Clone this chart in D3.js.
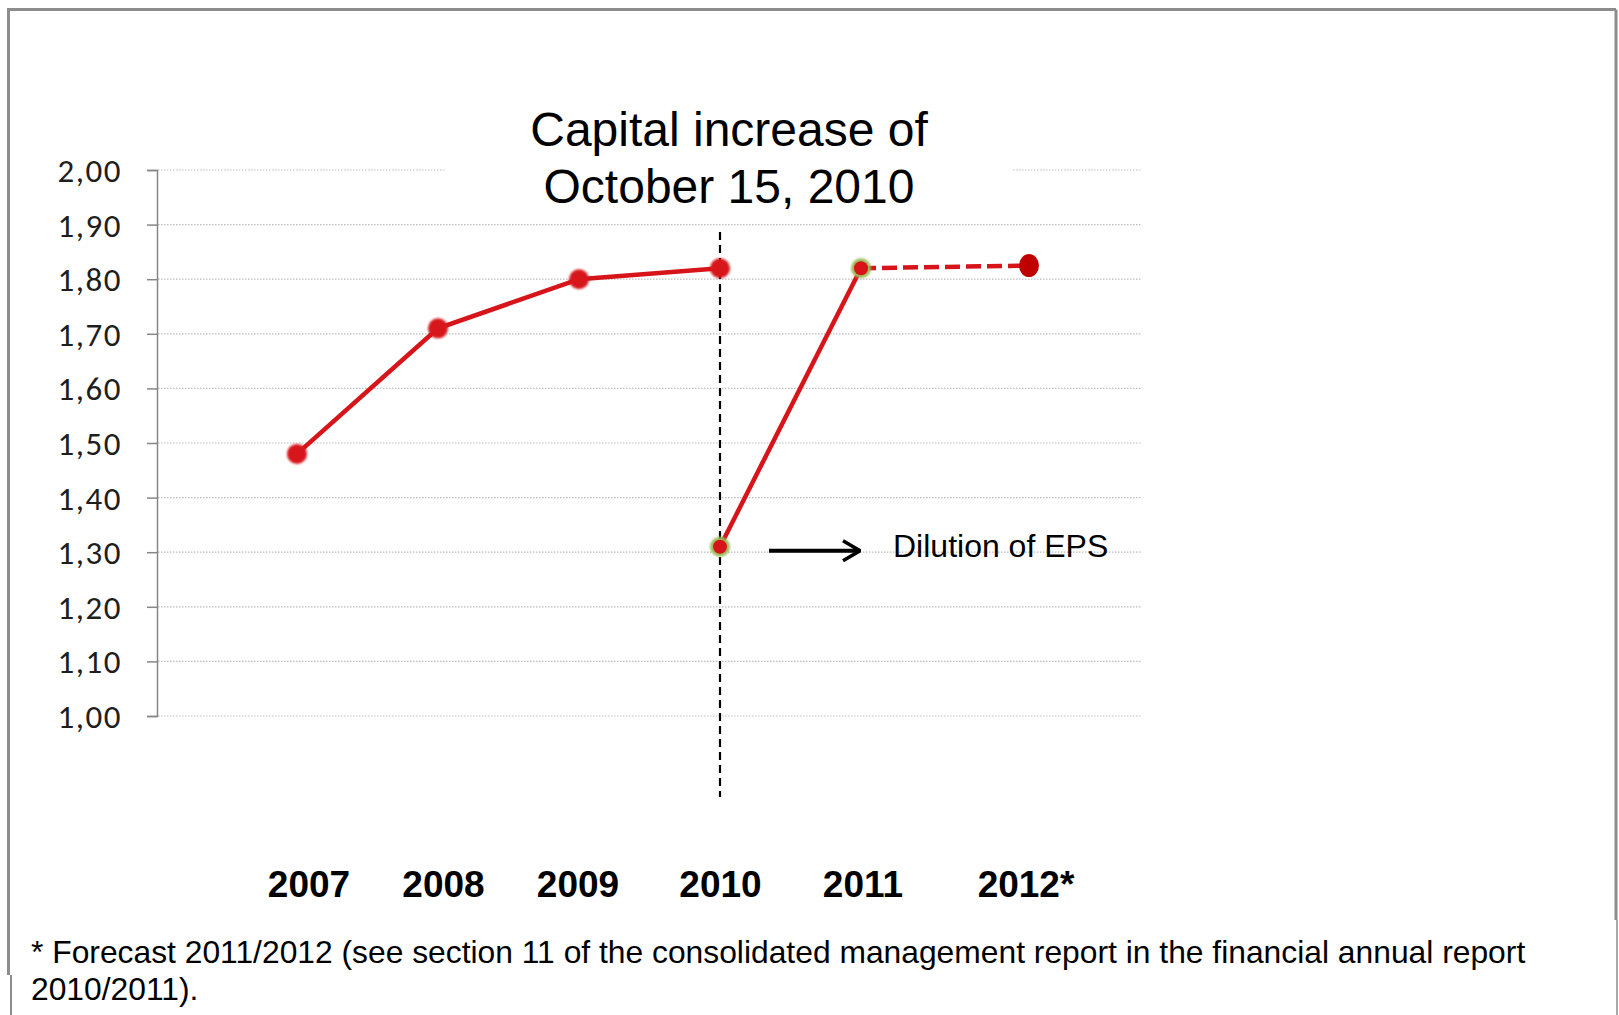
<!DOCTYPE html>
<html>
<head>
<meta charset="utf-8">
<script src="https://cdn.jsdelivr.net/npm/d3@7"></script>
<style>
  body { margin: 0; background: #fff; }
  svg { display: block; }
</style>
</head>
<body>
<svg id="chart" width="1619" height="1015"></svg>
<script>
// EPS before the capital increase (2007 - 2010)
const beforeYears = [2007, 2008, 2009, 2010];
const beforeEps = [1.48, 1.71, 1.80, 1.82];
// EPS after dilution (2010 restated, 2011)
const afterYears = [2010, 2011];
const afterEps = [1.31, 1.82];
// forecast 2011 -> 2012
const forecastYears = [2011, 2012];
const forecastEps = [1.82, 1.825];

const years = [2007, 2008, 2009, 2010, 2011, 2012];
const yearLabels = ["2007", "2008", "2009", "2010", "2011", "2012*"];
const yTicks = [1.0, 1.1, 1.2, 1.3, 1.4, 1.5, 1.6, 1.7, 1.8, 1.9, 2.0];

const titleLines = ["Capital increase of", "October 15, 2010"];
const noteText = "Dilution of EPS";
const footLines = [
  "* Forecast 2011/2012 (see section 11 of the consolidated management report in the financial annual report",
  "2010/2011)."
];

const svg = d3.select("#chart");
const red = "#d7141a";

// scales (2012 sits a little further out in the original)
const x = d3.scaleLinear().domain([2007, 2011, 2012]).range([297, 861, 1029]);
const xLab = d3.scaleLinear().domain([2007, 2009, 2011, 2012]).range([309, 578, 863, 1026]);
const y = d3.scaleLinear().domain([1, 2]).range([716, 170]);

const defs = svg.append("defs");
defs.append("filter").attr("id", "soft")
  .attr("x", "-50%").attr("y", "-50%").attr("width", "200%").attr("height", "200%")
  .append("feGaussianBlur").attr("stdDeviation", 1.1);
defs.append("marker").attr("id", "head")
  .attr("viewBox", "0 0 20 24").attr("refX", 19).attr("refY", 12)
  .attr("markerWidth", 20).attr("markerHeight", 24).attr("markerUnits", "userSpaceOnUse")
  .attr("orient", "auto")
  .append("path").attr("d", "M2,2 L19,12 L2,22")
  .attr("fill", "none").attr("stroke", "#000").attr("stroke-width", 3.5);

// frame
const frame = svg.append("g").attr("stroke", "#8c8c8c").attr("fill", "none");
frame.append("path").attr("d", "M8.5,975 V9.5 H1616").attr("stroke-width", 3);
frame.append("path").attr("d", "M1616,9.5 V920").attr("stroke-width", 3);
frame.append("path").attr("d", "M1617,920 V1015").attr("stroke-width", 1.5);
frame.append("path").attr("d", "M11,975 V1015").attr("stroke-width", 2);

// gridlines
svg.append("g").selectAll("line")
  .data(yTicks)
  .join("line")
  .attr("x1", 158).attr("x2", 1142)
  .attr("y1", d => y(d)).attr("y2", d => y(d))
  .attr("stroke", "#bdbdbd").attr("stroke-width", 1.2)
  .attr("stroke-dasharray", "1.5,1.5");

// y axis
const yAxis = svg.append("g")
  .attr("transform", "translate(157,0)")
  .call(d3.axisLeft(y).tickValues(yTicks).tickSizeOuter(0).tickSize(10).tickPadding(25)
    .tickFormat(d => d3.format(".2f")(d).replace(".", ",")));
yAxis.select(".domain").attr("stroke", "#868686").attr("stroke-width", 1.5);
yAxis.selectAll(".tick line").attr("stroke", "#868686").attr("stroke-width", 1.5);
yAxis.selectAll(".tick text")
  .attr("fill", "#1e1e1e")
  .style("font-family", "Carlito, Lato, 'Open Sans', sans-serif")
  .style("font-size", "33px")
  .style("letter-spacing", "1.5px")
  .attr("dy", "0.35em");

// title block (white box hides the top gridline)
svg.append("rect").attr("x", 446).attr("y", 95).attr("width", 566).attr("height", 125).attr("fill", "#fff");
svg.append("g").selectAll("text")
  .data(titleLines)
  .join("text")
  .attr("x", 729).attr("y", (d, i) => 146 + i * 57)
  .attr("text-anchor", "middle")
  .style("font-family", "'Liberation Sans', Arial, sans-serif")
  .style("font-size", "48px")
  .text(d => d);

// dashed vertical line at the capital increase
svg.append("line")
  .attr("x1", x(2010)).attr("x2", x(2010))
  .attr("y1", 232).attr("y2", 797)
  .attr("stroke", "#000").attr("stroke-width", 2.2)
  .attr("stroke-dasharray", "8,5");

const line = d3.line().x(d => x(d[0])).y(d => y(d[1]));

svg.append("path")
  .datum(d3.zip(beforeYears, beforeEps))
  .attr("d", line).attr("fill", "none").attr("stroke", red).attr("stroke-width", 4.5);
svg.append("path")
  .datum(d3.zip(afterYears, afterEps))
  .attr("d", line).attr("fill", "none").attr("stroke", red).attr("stroke-width", 4.5);
svg.append("path")
  .datum(d3.zip(forecastYears, forecastEps))
  .attr("d", line).attr("fill", "none").attr("stroke", red).attr("stroke-width", 4.5)
  .attr("stroke-dasharray", "15,6");

// markers
svg.append("g").selectAll("circle")
  .data(d3.zip(beforeYears, beforeEps))
  .join("circle")
  .attr("cx", d => x(d[0])).attr("cy", d => y(d[1])).attr("r", 10)
  .attr("fill", red).attr("filter", "url(#soft)");

const after = svg.append("g").selectAll("g")
  .data(d3.zip(afterYears, afterEps))
  .join("g");
after.append("circle")
  .attr("cx", d => x(d[0])).attr("cy", d => y(d[1])).attr("r", 10)
  .attr("fill", "#9bbb59").attr("filter", "url(#soft)");
after.append("circle")
  .attr("cx", d => x(d[0])).attr("cy", d => y(d[1])).attr("r", 7)
  .attr("fill", red);

svg.append("ellipse")
  .attr("cx", x(forecastYears[1])).attr("cy", y(forecastEps[1]))
  .attr("rx", 10).attr("ry", 11.5)
  .attr("fill", "#c00000");

// dilution arrow + note
const ya = y(afterEps[0]) + 4;
svg.append("line")
  .attr("x1", x(2010) + 49).attr("x2", x(2011) - 1)
  .attr("y1", ya).attr("y2", ya)
  .attr("stroke", "#000").attr("stroke-width", 4)
  .attr("marker-end", "url(#head)");
svg.append("text")
  .attr("x", 893).attr("y", 557)
  .style("font-family", "'Liberation Sans', Arial, sans-serif")
  .style("font-size", "32px")
  .text(noteText);

// category labels
svg.append("g").selectAll("text")
  .data(years)
  .join("text")
  .attr("x", d => xLab(d)).attr("y", 897)
  .attr("text-anchor", "middle")
  .style("font-family", "'Liberation Sans', Arial, sans-serif")
  .style("font-weight", "bold")
  .style("font-size", "37px")
  .text((d, i) => yearLabels[i]);

// footnote
svg.append("g").selectAll("text")
  .data(footLines)
  .join("text")
  .attr("x", 31).attr("y", (d, i) => 963 + i * 37)
  .style("font-family", "'Liberation Sans', Arial, sans-serif")
  .style("font-size", "31.8px")
  .text(d => d);
</script>
</body>
</html>
